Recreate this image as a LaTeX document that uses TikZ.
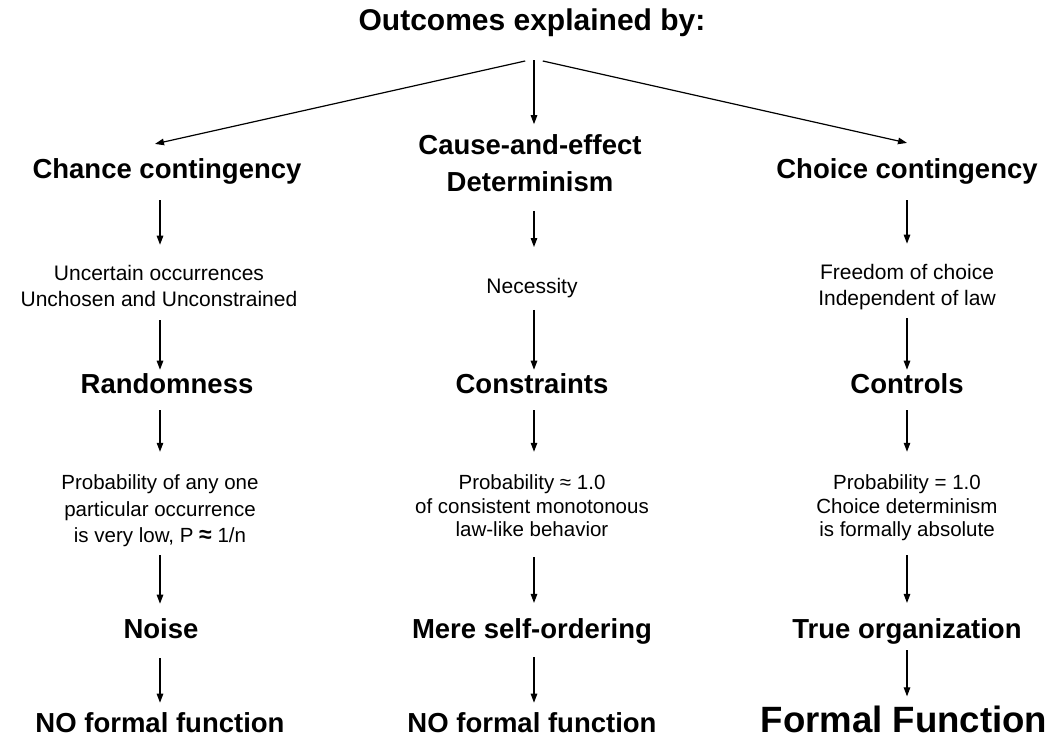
\documentclass[tikz,border=0pt]{standalone}
\usepackage{fontspec}
\setmainfont{Liberation Sans}
\usetikzlibrary{arrows.meta}

\begin{document}
\begin{tikzpicture}
  [x=1pt,y=-1pt,
   titleN/.style={font=\fontsize{30}{36}\selectfont\bfseries,inner sep=0},
   headN/.style={font=\fontsize{27.5}{37}\selectfont\bfseries,inner sep=0,align=center},
   noteN/.style={font=\fontsize{21}{26.7}\selectfont,inner sep=0,align=center},
   probN/.style={font=\fontsize{20.5}{23.5}\selectfont,inner sep=0,align=center},
   bigN/.style={font=\fontsize{36.6}{40}\selectfont\bfseries,inner sep=0},
   arr/.style={-{Triangle[length=9pt,width=6.5pt]},line width=1.2pt}]

  \useasboundingbox (0,0) rectangle (1057,739);

  \node[titleN] (title) at (532,23) {Outcomes explained by:};
  \coordinate (hub) at (534,59);

  % left column
  \node[headN] (chance) at (167,171) {Chance contingency};
  \node[noteN] (uncert) at (159,286) {Uncertain occurrences\\Unchosen and Unconstrained};
  \node[headN] (random) at (167,384) {Randomness};
  \node[probN,font=\fontsize{20.5}{26.5}\selectfont] (probL) at (160,511)
    {Probability of any one\\particular occurrence\\is very low, P {\bfseries\fontsize{23}{26}\selectfont ≈} 1/n};
  \node[headN] (noise) at (161,629) {Noise};
  \node[headN] (nofuncL) at (160,723) {NO formal function};

  % middle column
  \node[headN] (cause) at (530,163) {Cause-and-effect\\Determinism};
  \node[noteN] (necess) at (532,288) {Necessity};
  \node[headN] (constr) at (532,384) {Constraints};
  \node[probN] (probM) at (532,506) {Probability ≈ 1.0\\of consistent monotonous\\law-like behavior};
  \node[headN] (selford) at (532,631) {Mere self-ordering};
  \node[headN] (nofuncM) at (532,723) {NO formal function};

  % right column
  \node[headN] (choice) at (907,171) {Choice contingency};
  \node[noteN] (freedom) at (907,287) {Freedom of choice\\Independent of law};
  \node[headN] (controls) at (907,384) {Controls};
  \node[probN] (probR) at (907,508) {Probability = 1.0\\Choice determinism\\is formally absolute};
  \node[headN] (trueorg) at (907,631) {True organization};
  \node[bigN] (formal) at (904,719) {Formal Function};

  \draw [arr,shorten <=9pt] (hub) -- ([shift={(-5,-14)}]chance.north -| probL);
  \draw [arr,shorten <=1pt,shorten >=10pt] (hub) -- (hub |- cause.north);
  \draw [arr,shorten <=9pt] (hub) -- ([shift={(0,-15)}]choice.north);

  \draw [arr,shorten <=16pt,shorten >=20pt] (chance.south -| probL) -- (uncert.north -| probL);
  \draw [arr,shorten <=13pt,shorten >=4pt] (uncert.south -| probL) -- (random.north -| probL);
  \draw [arr,shorten <=16pt,shorten >=23pt] (random.south -| probL) -- (probL);
  \draw [arr,shorten <=8pt,shorten >=15pt] (probL) -- (noise.north -| probL);
  \draw [arr,shorten <=19pt,shorten >=10pt] (noise.south -| probL) -- (nofuncL);

  \draw [arr,shorten <=19pt,shorten >=31pt] (cause.south -| hub) -- (necess.north -| hub);
  \draw [arr,shorten <=12pt,shorten >=4pt] (necess.south -| hub) -- (constr.north -| hub);
  \draw [arr,shorten <=16pt,shorten >=23pt] (constr.south -| hub) -- (probM.north -| hub);
  \draw [arr,shorten <=20pt,shorten >=15pt] (probM.south -| hub) -- (selford.north -| hub);
  \draw [arr,shorten <=13pt,shorten >=10pt] (selford.south -| hub) -- (nofuncM.north -| hub);

  \draw [arr,shorten <=16pt,shorten >=20pt] (choice) -- (freedom);
  \draw [arr,shorten <=8pt,shorten >=4pt] (freedom) -- (controls);
  \draw [arr,shorten <=16pt,shorten >=23pt] (controls) -- (probR);
  \draw [arr,shorten <=14pt,shorten >=15pt] (probR) -- (trueorg);
  \draw [arr,shorten <=6pt,shorten >=9pt] (trueorg) -- (formal.north -| trueorg);
\end{tikzpicture}
\end{document}
